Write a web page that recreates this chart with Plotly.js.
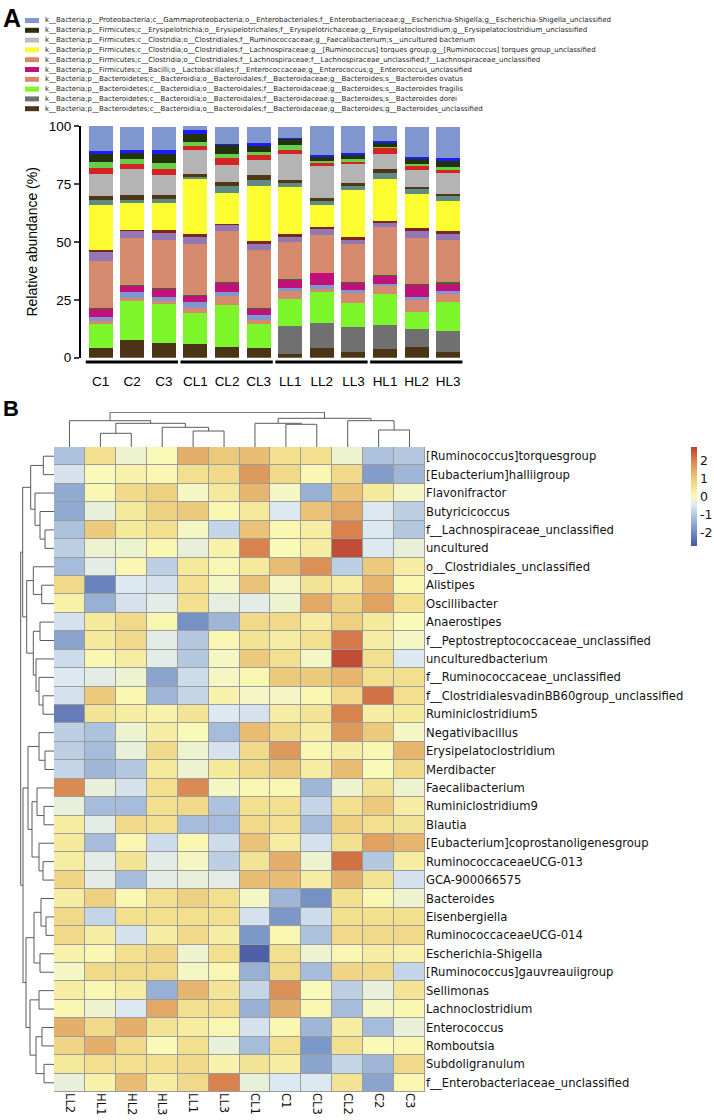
<!DOCTYPE html>
<html><head><meta charset="utf-8">
<script src="https://cdn.plot.ly/plotly-3.0.1.min.js"></script>
<style>html,body{margin:0;padding:0;background:#fff;}#chart{width:714px;height:1120px;}</style>
</head><body><div id="chart"></div>
<script>
// ---------- Panel A data ----------
const samples = ['C1','C2','C3','CL1','CL2','CL3','LL1','LL2','LL3','HL1','HL2','HL3'];
const groups = [['C1','C2','C3'],['CL1','CL2','CL3'],['LL1','LL2','LL3'],['HL1','HL2','HL3']];

const legendLabels = [
 'k__Bacteria;p__Proteobacteria;c__Gammaproteobacteria;o__Enterobacteriales;f__Enterobacteriaceae;g__Escherichia-Shigella;g__Escherichia-Shigella_unclassified',
 'k__Bacteria;p__Firmicutes;c__Erysipelotrichia;o__Erysipelotrichales;f__Erysipelotrichaceae;g__Erysipelatoclostridium;g__Erysipelatoclostridium_unclassified',
 'k__Bacteria;p__Firmicutes;c__Clostridia;o__Clostridiales;f__Ruminococcaceae;g__Faecalibacterium;s__uncultured bacterium',
 'k__Bacteria;p__Firmicutes;c__Clostridia;o__Clostridiales;f__Lachnospiraceae;g__[Ruminococcus] torques group;g__[Ruminococcus] torques group_unclassified',
 'k__Bacteria;p__Firmicutes;c__Clostridia;o__Clostridiales;f__Lachnospiraceae;f__Lachnospiraceae_unclassified;f__Lachnospiraceae_unclassified',
 'k__Bacteria;p__Firmicutes;c__Bacilli;o__Lactobacillales;f__Enterococcaceae;g__Enterococcus;g__Enterococcus_unclassified',
 'k__Bacteria;p__Bacteroidetes;c__Bacteroidia;o__Bacteroidales;f__Bacteroidaceae;g__Bacteroides;s__Bacteroides ovatus',
 'k__Bacteria;p__Bacteroidetes;c__Bacteroidia;o__Bacteroidales;f__Bacteroidaceae;g__Bacteroides;s__Bacteroides fragilis',
 'k__Bacteria;p__Bacteroidetes;c__Bacteroidia;o__Bacteroidales;f__Bacteroidaceae;g__Bacteroides;s__Bacteroides dorei',
 'k__Bacteria;p__Bacteroidetes;c__Bacteroidia;o__Bacteroidales;f__Bacteroidaceae;g__Bacteroides;g__Bacteroides_unclassified'
];
const legendColors = ['#7f97ce','#25330d','#bdbdbd','#fcfc30','#d5896d','#c2107a','#d5896d','#7df52b','#707070','#4b3416'];

// relative abundance (%) per taxon, sample order as `samples` (bottom -> top of stack)
const bactUncl    = [4.1, 7.6, 6.2, 6.0, 4.7, 4.1, 1.4, 4.1, 2.3, 3.6, 4.7, 2.6];
const bactDorei   = [0, 0, 0, 0, 0, 0, 12.1, 10.8, 11.1, 10.5, 7.6, 8.9];
const bactFragilis= [10.5, 16.8, 17.0, 13.2, 18.0, 10.5, 11.7, 13.6, 10.1, 13.5, 7.5, 12.6];
const bactOvatus  = [1.4, 1.2, 1.3, 2.2, 3.9, 1.7, 3.6, 1.0, 4.3, 3.3, 5.0, 3.4];
const otherBlue   = [1.4, 2.9, 1.9, 2.6, 1.9, 2.2, 1.4, 1.9, 1.4, 1.0, 1.4, 1.2];
const enterococcus= [3.6, 2.5, 3.3, 2.6, 3.6, 2.7, 3.4, 5.0, 2.9, 3.3, 5.0, 3.3];
const otherOlive  = [0.4, 0.4, 0.3, 0.3, 0.5, 0.3, 0.4, 0.3, 0.5, 0.7, 0.5, 0.6];
const lachnoUncl  = [20.4, 20.1, 20.8, 22.3, 21.9, 24.9, 15.8, 16.3, 16.3, 20.7, 20.1, 18.3];
const otherPurple = [3.9, 3.1, 3.2, 3.1, 2.6, 2.5, 2.4, 2.6, 1.7, 1.4, 2.9, 2.6];
const otherDarkRed= [1.0, 0.5, 1.0, 0.9, 0.7, 1.4, 1.0, 1.0, 1.4, 1.0, 1.4, 1.0];
const torquesGrp  = [19.2, 11.5, 11.7, 23.8, 13.2, 23.7, 20.6, 9.3, 20.5, 18.3, 14.6, 13.2];
const otherTeal   = [2.2, 1.4, 1.7, 1.0, 3.3, 2.8, 1.4, 1.7, 1.7, 2.6, 2.0, 2.0];
const otherBrown  = [1.9, 2.4, 1.9, 1.4, 1.4, 2.2, 1.4, 1.2, 1.3, 1.4, 0.9, 0.9];
const faecali     = [9.4, 11.2, 8.6, 10.1, 7.5, 6.5, 11.4, 13.9, 8.0, 6.6, 7.5, 9.2];
const otherRed    = [2.6, 2.0, 2.7, 1.8, 3.2, 1.8, 1.8, 1.2, 1.0, 2.4, 1.5, 1.4];
const otherGreen  = [2.4, 2.3, 2.6, 1.8, 1.7, 1.6, 2.2, 1.2, 1.4, 0.5, 0.8, 1.0];
const erysipelato = [3.6, 2.6, 3.7, 3.6, 3.6, 2.6, 2.2, 1.4, 1.4, 1.9, 2.4, 2.9];
const otherBright = [1.0, 1.0, 1.7, 1.5, 0.7, 1.2, 0.5, 0.8, 1.2, 0.7, 1.0, 1.0];
const escherichia = [11.0, 10.1, 10.0, 1.8, 7.0, 6.8, 5.0, 12.9, 11.5, 6.5, 12.7, 13.5];

const stack = [
 [bactUncl,'#4b3416'],[bactDorei,'#707070'],[bactFragilis,'#7df52b'],[bactOvatus,'#d5896d'],
 [otherBlue,'#7f97ce'],[enterococcus,'#c2107a'],[otherOlive,'#3f6b25'],[lachnoUncl,'#d5896d'],
 [otherPurple,'#9376b4'],[otherDarkRed,'#7b2715'],[torquesGrp,'#fcfc30'],[otherTeal,'#5e8b86'],
 [otherBrown,'#523714'],[faecali,'#b4b4b4'],[otherRed,'#d62222'],[otherGreen,'#64d04a'],
 [erysipelato,'#25330d'],[otherBright,'#1c1cfa'],[escherichia,'#7f97ce']
];

// ---------- Panel B data ----------
const colLabels = ['LL2','HL1','HL2','HL3','LL1','LL3','CL1','C1','CL3','CL2','C2','C3'];
const rowLabels = ['[Ruminococcus]torquesgroup','[Eubacterium]halliigroup','Flavonifractor','Butyricicoccus',
 'f__Lachnospiraceae_unclassified','uncultured','o__Clostridiales_unclassified','Alistipes','Oscillibacter',
 'Anaerostipes','f__Peptostreptococcaceae_unclassified','unculturedbacterium','f__Ruminococcaceae_unclassified',
 'f__ClostridialesvadinBB60group_unclassified','Ruminiclostridium5','Negativibacillus','Erysipelatoclostridium',
 'Merdibacter','Faecalibacterium','Ruminiclostridium9','Blautia','[Eubacterium]coprostanoligenesgroup',
 'RuminococcaceaeUCG-013','GCA-900066575','Bacteroides','Eisenbergiella','RuminococcaceaeUCG-014',
 'Escherichia-Shigella','[Ruminococcus]gauvreauiigroup','Sellimonas','Lachnoclostridium','Enterococcus',
 'Romboutsia','Subdoligranulum','f__Enterobacteriaceae_unclassified'];
// row z-scores, columns in colLabels order
const zRows = [
 [-1.1, 0.6,-0.2, 0.0, 1.4, 1.0, 1.2, 0.6, 0.6,-0.2,-1.1,-1.0],
 [-0.6, 0.0, 0.2, 0.1, 0.6, 0.7, 1.7, 0.7, 0.1, 0.7,-1.7,-1.3],
 [-1.5, 0.1, 0.7, 0.9,-0.1, 0.4, 1.3,-0.1,-1.4, 1.1, 0.4,-0.1],
 [-1.5,-0.3, 0.4, 0.9, 1.0, 0.1, 0.4,-0.5, 1.1, 1.5,-0.5,-0.9],
 [-1.1, 1.0, 0.4, 0.6,-0.1,-0.8, 1.1, 0.1, 0.3, 2.0,-0.5,-1.0],
 [-0.9,-0.2,-0.2, 0.1,-0.3, 0.2, 2.0, 0.0, 0.3, 2.6,-0.5,-0.3],
 [-1.2,-0.4, 0.1,-0.9, 0.4, 0.1, 0.4, 1.2, 1.8,-0.9, 1.0, 0.3],
 [ 0.7,-2.1,-0.5,-0.6, 0.6,-0.1, 1.1,-0.1, 0.5, 0.3, 1.3, 0.1],
 [ 0.2,-1.4,-0.6,-0.4, 0.6,-0.35,-0.4,-0.2, 1.5, 0.9, 1.6, 0.6],
 [-0.6, 0.4, 0.7, 0.1,-1.9,-1.3, 0.7, 0.7, 0.3, 0.9, 0.4, 0.0],
 [-1.6, 0.4, 0.7,-0.4,-1.0, 0.1, 0.5, 0.3, 0.6, 2.1, 0.3,-0.1],
 [-0.7, 0.1, 0.3,-0.4,-1.0,-0.1, 1.0, 0.6,-0.1, 2.6, 0.6,-0.5],
 [-0.5,-0.4,-0.2,-1.6,-0.7,-0.1, 0.1, 1.0, 1.0, 1.3, 0.6, 0.6],
 [-0.6, 1.0, 0.1,-1.3,-0.8, 0.2,-0.1,-0.1, 0.1, 0.7, 2.2, 0.6],
 [-2.2, 0.5, 0.3, 0.2, 0.5,-0.5,-0.6, 0.3, 0.5, 2.0, 0.3, 0.4],
 [-0.9,-1.1,-0.2, 0.3, 0.0,-1.2, 1.2, 0.7, 0.3, 1.7, 1.0,-0.1],
 [-0.9,-1.2,-0.3, 0.7,-0.2,-0.6, 0.7, 1.7, 0.1, 0.3, 0.1, 1.3],
 [-0.8,-1.3,-1.0, 0.4,-0.2, 0.4, 0.7, 1.0, 0.3, 1.2, 0.0, 0.7],
 [ 1.9,-0.3,-0.6, 0.6, 1.9,-0.1, 0.1, 0.1,-1.3,-0.2, 0.5,-0.2],
 [-0.3,-1.2,-1.2, 0.6, 0.7,-1.1, 0.6, 0.6,-0.8, 0.6, 1.0, 0.3],
 [ 0.3,-0.4, 0.7, 0.6,-1.2,-1.2, 0.7, 0.6,-1.2, 0.9, 0.6, 0.5],
 [ 0.4,-1.2, 0.1,-0.7, 0.1,-0.7, 1.1, 0.3,-0.6, 0.6, 1.6, 1.3],
 [ 0.3,-0.4, 0.5,-0.4,-0.1,-0.9, 0.5, 1.4,-0.2, 2.2,-1.0, 0.3],
 [ 0.8,-0.4,-1.2,-0.4,-0.3,-0.4, 1.2, 1.2, 0.3, 1.4, 0.5,-0.6],
 [ 0.3, 0.9, 0.1, 0.6, 0.9, 0.6,-0.1,-1.3,-1.9, 0.6, 0.1,-0.2],
 [ 0.7,-0.8, 0.6, 0.6, 0.6, 0.6,-0.6,-1.8,-0.7, 0.6, 0.6, 0.6],
 [ 0.7, 0.3,-0.6, 0.3, 0.7, 0.3,-1.8, 0.1,-1.1, 0.7, 0.7, 0.7],
 [ 0.2, 0.1, 0.6, 0.8,-0.2, 0.6,-2.6, 0.6,-0.2, 0.1, 0.3, 0.2],
 [-0.1, 0.7, 0.7, 0.7,-0.1, 0.1,-1.4, 0.7,-1.2, 0.8, 0.7,-0.8],
 [ 0.3, 0.1, 0.3,-1.4, 1.3, 0.5,-0.8, 1.8, 0.0,-0.9,-0.3, 0.5],
 [ 0.1,-0.2,-0.5, 1.5, 0.6, 0.6,-1.4, 1.4, 0.1,-1.2,-0.1, 0.1],
 [ 1.4, 0.7, 1.4, 0.5, 0.3, 0.1,-0.6, 0.1,-1.3, 0.3,-1.2,-0.3],
 [ 0.8, 1.4, 0.7, 0.0, 0.6,-0.3,-1.2, 0.6,-1.8, 0.6, 0.0, 0.1],
 [ 0.4, 0.6, 0.6, 0.6, 0.7, 0.2, 0.5, 0.3,-1.6,-0.8,-1.3, 0.7],
 [-0.3, 0.2, 1.2, 0.3, 0.7, 2.0,-0.3,-0.5,-0.5, 0.5,-1.6, 0.1]
];
const colorbarTicks = [-2,-1,0,1,2];
const colorbarTickText = ['-2','-1','0','1','2'];
// dendrograms: [left, right, mergeHeight]; leaves are indices
const colTree = [[0,[[1,2,13.7],[3,[4,5,16],19.7],23.7],26.3],[[6,[7,8,22.7],23.7],[9,[10,11,17],26.3],28.7],34.7];
const rowTree = [
 [[[0,1,10.7],[2,[3,[4,5,9],14],19],23.3],
  [[6,[7,8,12.3],20.7],[[9,10,14],[11,[12,[13,14,11],15],18],20.7],27.3],31.3],
 [[[15,[16,17,9],15],[[18,[19,20,10],17],[21,[22,23,11],15],22],26],
  [[[24,[25,26,8],13],[27,28,14],20],[[29,30,15],[[31,32,12],[33,34,10],18],24],28],31],33.3];

// ---------- build ----------
const W=714, H=1120;
const px = x => x/W, py = y => 1 - y/H;

const traces = [];
stack.forEach(([vals,color]) => traces.push({type:'bar', x:samples, y:vals, marker:{color:color, line:{width:0}},
  xaxis:'x', yaxis:'y', hoverinfo:'y'}));

traces.push({type:'heatmap', x:colLabels, y:rowLabels, z:zRows, xaxis:'x2', yaxis:'y2', zmin:-2.75, zmax:2.75,
  xgap:1, ygap:1,
  colorscale:[[0,'#4656a2'],[0.173,'#7c98c8'],[0.318,'#b4c8e0'],[0.409,'#dde9f1'],[0.5,'#fafab8'],
              [0.609,'#f2e08e'],[0.682,'#ecca7c'],[0.773,'#e2a866'],[0.864,'#d8824e'],[1,'#bc4030']],
  colorbar:{thickness:6, thicknessmode:'pixels', len:99, lenmode:'pixels', x:px(690.5), xanchor:'left',
    y:py(447), yanchor:'top', xpad:0, ypad:0, outlinewidth:0, tickvals:colorbarTicks, ticktext:colorbarTickText,
    ticks:'', tickfont:{family:'DejaVu Sans', size:12.5, color:'#111'}}});

function dendro(tree, orient){
  const xs=[], ys=[];
  function walk(n){
    if (typeof n === 'number') return {p:n, h:0};
    const a = walk(n[0]), b = walk(n[1]), h = n[2];
    const P = [[a.p,a.h],[a.p,h],[b.p,h],[b.p,b.h]];
    P.forEach(([p,hh]) => { if (orient==='col'){xs.push(p); ys.push(hh);} else {xs.push(hh); ys.push(p);} });
    xs.push(null); ys.push(null);
    return {p:(a.p+b.p)/2, h:h};
  }
  walk(tree);
  return {xs, ys};
}
const cd = dendro(colTree,'col'), rd = dendro(rowTree,'row');
traces.push({type:'scatter', mode:'lines', x:cd.xs, y:cd.ys, xaxis:'x3', yaxis:'y3', line:{color:'#5a5a5a', width:1}, hoverinfo:'skip'});
traces.push({type:'scatter', mode:'lines', x:rd.xs, y:rd.ys, xaxis:'x4', yaxis:'y4', line:{color:'#5a5a5a', width:1}, hoverinfo:'skip'});

const shapes = [], annotations = [];
groups.forEach(g => {
  shapes.push({type:'line', xref:'x', yref:'paper', x0:samples.indexOf(g[0])-0.47, x1:samples.indexOf(g[g.length-1])+0.45,
    y0:py(362), y1:py(362), line:{color:'#000', width:3}});
});
shapes.push({type:'rect', xref:'x2', yref:'y2', x0:-0.5, x1:11.5, y0:-0.5, y1:34.5, layer:'below',
  fillcolor:'#9c9c9c', line:{color:'#9c9c9c', width:1}});

legendLabels.forEach((t,i) => {
  const yc = 20.5 + 9.8*i;
  shapes.push({type:'rect', xref:'paper', yref:'paper', x0:px(25), x1:px(39), y0:py(yc+2.5), y1:py(yc-2.5),
    fillcolor:legendColors[i], line:{width:0}});
  annotations.push({xref:'paper', yref:'paper', x:px(43), y:py(yc), xanchor:'left', yanchor:'middle', showarrow:false,
    text:t, font:{family:'DejaVu Sans', size:7, color:'#222'}});
});
annotations.push({xref:'paper', yref:'paper', x:px(1), y:py(17.5), xanchor:'left', yanchor:'middle', showarrow:false,
  text:'<b>A</b>', font:{family:'Liberation Sans, Arial', size:25, color:'#000'}});
annotations.push({xref:'paper', yref:'paper', x:px(1), y:py(408.5), xanchor:'left', yanchor:'middle', showarrow:false,
  text:'<b>B</b>', font:{family:'Liberation Sans, Arial', size:22, color:'#000'}});

const layout = {
  width:W, height:H, margin:{l:0,r:0,t:0,b:0}, paper_bgcolor:'#fff', plot_bgcolor:'rgba(0,0,0,0)',
  showlegend:false, barmode:'stack', bargap:0.24,
  font:{family:'Liberation Sans, Arial, sans-serif', color:'#000'},
  xaxis:{domain:[px(81),px(464)], range:[-0.62,11.5], type:'category', categoryarray:samples, anchor:'y',
    showgrid:false, zeroline:false, showline:false, ticks:'', ticklabelstandoff:14,
    tickfont:{family:'Liberation Sans, Arial', size:13.5, color:'#000'}},
  yaxis:{domain:[py(357.7),py(126)], range:[0,100], anchor:'x', tickvals:[0,25,50,75,100],
    showgrid:false, zeroline:false, showline:true, linewidth:2, linecolor:'#000', ticks:'outside', ticklen:5, tickwidth:2,
    tickfont:{family:'Liberation Sans, Arial', size:13.5, color:'#000'},
    title:{text:'Relative abundance (%)', font:{family:'Liberation Sans, Arial', size:14, color:'#000'}, standoff:8}},
  xaxis2:{domain:[px(54),px(425)], range:[-0.5,11.5], anchor:'y2', type:'category', showgrid:false, zeroline:false,
    showline:false, ticks:'', tickangle:90, tickfont:{family:'DejaVu Sans', size:11.5, color:'#111'}},
  yaxis2:{domain:[py(1092),py(447)], range:[34.5,-0.5], anchor:'x2', type:'category', side:'right', showgrid:false,
    zeroline:false, showline:false, ticks:'', tickfont:{family:'DejaVu Sans', size:11.6, color:'#111'}},
  xaxis3:{domain:[px(54),px(425)], range:[-0.5,11.5], anchor:'y3', visible:false},
  yaxis3:{domain:[py(447),py(412)], range:[0,35], anchor:'x3', visible:false},
  xaxis4:{domain:[px(19),px(54)], range:[35,0], anchor:'y4', visible:false},
  yaxis4:{domain:[py(1092),py(447)], range:[34.5,-0.5], anchor:'x4', visible:false},
  shapes:shapes, annotations:annotations
};
Plotly.newPlot('chart', traces, layout, {displayModeBar:false, staticPlot:true});
</script></body></html>
